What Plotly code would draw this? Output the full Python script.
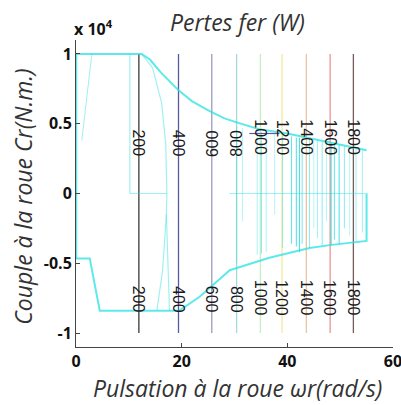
import plotly.graph_objects as go

# ---- data ----
levels = [200, 400, 600, 800, 1000, 1200, 1400, 1600, 1800]
level_x = [11.9, 19.4, 25.7, 30.4, 34.9, 39.0, 43.6, 48.1, 52.5]
level_colors = ["#3a3a3a", "#5a5aa0", "#9c9cc4", "#a8d8d8", "#c8ecc8",
                "#f2eaa0", "#ecc4a4", "#e49494", "#7a5c5c"]
level_span = [-10000, 10000]
label_up_y = [3600, 3600, 3600, 3600, 4000, 4000, 4000, 4000, 4000]
label_up_angle = [90, 90, -90, -90, 90, 90, 90, 90, 90]
label_low_y = [-7600, -7600, -7600, -7600, -7500, -7500, -7500, -7500, -7500]

upper_x = [0, 12.4, 14, 16, 19.4, 22, 25.3, 28, 30.4, 34.7, 40, 45, 50, 55]
upper_y = [10000, 10000, 9600, 8700, 7400, 6600, 5900, 5400, 5100, 4600, 4300, 3900, 3500, 3100]
lower_x = [0, 2.6, 4.5, 19.5, 23.4, 29.1, 36.6, 44.2, 48, 55, 55]
lower_y = [-4650, -4650, -8400, -8400, -7400, -5500, -4600, -3900, -3700, -3400, 0]
left_edge_x = [0, 0]
left_edge_y = [10000, -4650]

box_x = [10.2, 10.2, 17.2]
box_y = [10000, 0, 0]
bulge_x = [12.4, 14.5, 16.2, 17.0, 17.2, 17.1, 16.4, 15.3]
bulge_y = [10000, 9000, 6500, 3500, 0, -1500, -5500, -8400]
spike2_x = [17.1, 17.7]
spike2_y = [-1500, -8400]
slant_x = [3.0, 1.1]
slant_y = [10000, 3800]
right_floor_x = [29.0, 55.0]
right_floor_y = [0, 0]
blue_seg_x = [32.8, 38.5]
blue_seg_y = [4300, 4300]

spike_x = [30.4, 31.5, 34.3, 35.1, 36.0, 37.6, 39.1, 40.8, 41.7, 42.3, 42.8, 44.2,
           45.0, 45.7, 46.6, 47.4, 48.3, 48.9, 49.8, 50.8, 51.8, 53.0, 54.2]
spike_top = [4800, 4700, 4500, 4400, 4400, 4300, 4200, 4100, 4000, 4000, 4000, 3900,
             3800, 3800, 3700, 3600, 3600, 3600, 3500, 3400, 3300, 3200, 3100]
spike_bot = [-5000, -2000, -4400, -4300, -4200, -1500, -3900, -3600, -3800, -4200, -3600, -3900,
             -2500, -3200, -3700, -2000, -3700, -3300, -3600, -2500, -3000, -3400, -2800]
spike_alpha = [0.35, 0.3, 0.35, 0.5, 0.35, 0.3, 0.4, 0.7, 0.8, 0.8, 0.6, 0.5,
               0.3, 0.4, 0.5, 0.3, 0.8, 0.7, 0.8, 0.5, 0.3, 0.4, 0.4]

fig = go.Figure()

# contour lines
for lv, x, c in zip(levels, level_x, level_colors):
    fig.add_trace(go.Scatter(x=[x, x], y=level_span, mode="lines",
                             line=dict(color=c, width=1.3), hoverinfo="skip"))

cyan = "rgba(40,225,225,0.75)"
cyan_thin = "rgba(40,225,225,0.45)"
for xs, ys, col, w in [
    (upper_x, upper_y, cyan, 2), (lower_x, lower_y, cyan, 2),
    (left_edge_x, left_edge_y, cyan, 2.5), (box_x, box_y, cyan_thin, 1.2),
    (bulge_x, bulge_y, cyan_thin, 1.2), (spike2_x, spike2_y, cyan_thin, 1.2),
    (slant_x, slant_y, cyan_thin, 1), (right_floor_x, right_floor_y, cyan_thin, 1.2)]:
    fig.add_trace(go.Scatter(x=xs, y=ys, mode="lines",
                             line=dict(color=col, width=w), hoverinfo="skip"))

for x, t, b, a in zip(spike_x, spike_top, spike_bot, spike_alpha):
    fig.add_trace(go.Scatter(x=[x, x], y=[t, b], mode="lines",
                             line=dict(color=f"rgba(20,220,225,{a})", width=1),
                             hoverinfo="skip"))

fig.add_trace(go.Scatter(x=blue_seg_x, y=blue_seg_y, mode="lines",
                         line=dict(color="#5a5aa0", width=1.2), hoverinfo="skip"))

# contour labels
for lv, x, yu, ang, yl in zip(levels, level_x, label_up_y, label_up_angle, label_low_y):
    for yy, aa in [(yu, ang), (yl, 90)]:
        fig.add_annotation(x=x, y=yy, text=str(lv), textangle=aa, showarrow=False,
                           font=dict(family="Liberation Sans", size=16, color="#1a1a1a"))

title_font = dict(family="Open Sans", size=23, color="#333")
tick_font = dict(family="Open Sans", size=16, color="#111", weight="bold")

fig.add_annotation(xref="paper", yref="paper", x=-0.012, y=0.995, xanchor="left",
                   yanchor="bottom", text="<b>x 10</b><sup><b>4</b></sup>",
                   showarrow=False, font=dict(family="Open Sans", size=16, color="#111"))
fig.add_annotation(xref="paper", yref="paper", x=0.508, y=1.06, xanchor="center",
                   yanchor="middle", text="<i>Pertes fer (W)</i>", showarrow=False,
                   font=title_font)
fig.add_annotation(xref="paper", yref="paper", x=0.508, y=-0.135, xanchor="center",
                   yanchor="middle", text="<i>Pulsation à la roue ωr(rad/s)</i>",
                   showarrow=False, font=title_font)
fig.add_annotation(xref="paper", yref="paper", x=-0.17, y=0.49, xanchor="center",
                   yanchor="middle", text="<i>Couple à la roue Cr(N.m.)</i>",
                   textangle=-90, showarrow=False, font=title_font)

fig.update_layout(
    width=401, height=405,
    margin=dict(l=76, r=8, t=40, b=58, autoexpand=False),
    paper_bgcolor="white", plot_bgcolor="white",
    showlegend=False,
    xaxis=dict(range=[0, 60], tickvals=[0, 20, 40, 60], ticks="inside", ticklen=4,
               showline=True, linecolor="#444", linewidth=1, showgrid=False,
               zeroline=False, mirror=False, tickfont=tick_font,
               ticklabeloverflow="allow", automargin=False),
    yaxis=dict(range=[-11000, 11000], tickvals=[-10000, -5000, 0, 5000, 10000],
               ticktext=["-1", "-0.5", "0", "0.5", "1"], ticks="inside", ticklen=4,
               showline=True, linecolor="#444", linewidth=1, showgrid=False,
               zeroline=False, tickfont=tick_font, automargin=False),
)

fig.write_html("out.html", config={"displayModeBar": False},
               post_script="document.body.style.margin='0';document.body.style.padding='0';")
